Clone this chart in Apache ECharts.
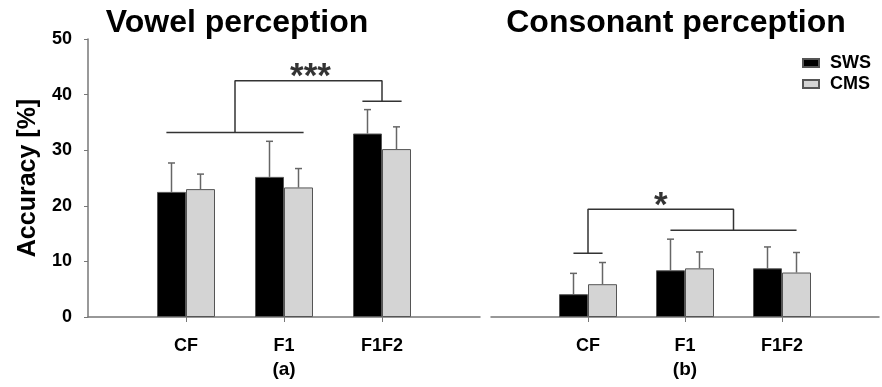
<!DOCTYPE html>
<html>
    <head>
        <meta charset="utf-8" />
        <script src="https://cdn.jsdelivr.net/npm/echarts@6/dist/echarts.min.js"></script>
    </head>
    <body>
        <style>
            html, body, #main {
                width: 882px;
                height: 387px;
                padding: 0;
                margin: 0;
                background: #fff;
            }
        </style>
        <div id="main"></div>
        <script>
            // categories and panel labels
            var categories = ['CF', 'F1', 'F1F2'];
            var panelTitles = ['Vowel perception', 'Consonant perception'];
            var panelTags = ['(a)', '(b)'];

            // mean accuracy [%] and upper error (SD) per category
            var vowelSWS = [22.5, 25.2, 33.0];
            var vowelCMS = [23.0, 23.3, 30.2];
            var vowelSWSErr = [5.2, 6.4, 4.3];
            var vowelCMSErr = [2.7, 3.4, 4.0];

            var consSWS = [4.1, 8.4, 8.75];
            var consCMS = [5.9, 8.75, 8.0];
            var consSWSErr = [3.75, 5.6, 3.85];
            var consCMSErr = [3.9, 2.95, 3.6];

            // significance brackets, x in category units (CF = 1), y in %
            var vowelBracket = [
                [0.8, 33.2], [2.2, 33.2], null,
                [1.5, 33.2], [1.5, 42.5], [3.0, 42.5], [3.0, 38.8], null,
                [2.8, 38.8], [3.2, 38.8]
            ];
            var consBracket = [
                [0.85, 11.45], [1.15, 11.45], null,
                [1.0, 11.45], [1.0, 19.4], [2.5, 19.4], [2.5, 15.6], null,
                [1.85, 15.6], [3.15, 15.6]
            ];
            var vowelStars = [[2.27, 44.6, '***']];
            var consStars = [[1.75, 21.3, '*']];

            var BAR_W = 29;
            var FONT = 'Liberation Sans, Arial, sans-serif';

            function pad(arr) {
                return [null].concat(arr, [null]);
            }
            var axisCats = pad(categories).map(function (c) { return c || ''; });

            function errData(vals, errs) {
                return vals.map(function (v, i) { return [i + 1, v, errs[i]]; });
            }

            function errSeries(vals, errs, gridIdx, side) {
                return {
                    type: 'custom',
                    xAxisIndex: gridIdx,
                    yAxisIndex: gridIdx,
                    z: 1,
                    data: errData(vals, errs),
                    renderItem: function (params, api) {
                        var base = api.coord([api.value(0), api.value(1)]);
                        var top = api.coord([api.value(0), api.value(1) + api.value(2)]);
                        var x = base[0] + side * BAR_W / 2;
                        var style = { stroke: '#666', lineWidth: 1.5 };
                        return {
                            type: 'group',
                            children: [
                                { type: 'line', shape: { x1: x, y1: base[1], x2: x, y2: top[1] }, style: style },
                                { type: 'line', shape: { x1: x - 3.5, y1: top[1], x2: x + 3.5, y2: top[1] }, style: style }
                            ]
                        };
                    }
                };
            }

            function barSeries(name, vals, gridIdx, color) {
                return {
                    name: name,
                    type: 'bar',
                    xAxisIndex: gridIdx,
                    yAxisIndex: gridIdx,
                    barWidth: BAR_W,
                    barGap: '0%',
                    z: 2,
                    itemStyle: { color: color, borderColor: '#555', borderWidth: 1 },
                    data: pad(vals)
                };
            }

            function bracketSeries(pts, gridIdx) {
                return {
                    type: 'line',
                    xAxisIndex: gridIdx + 2,
                    yAxisIndex: gridIdx,
                    symbol: 'none',
                    connectNulls: false,
                    lineStyle: { color: '#333', width: 1.5 },
                    data: pts.map(function (p) { return p ? p : [null, null]; })
                };
            }

            function starSeries(stars, gridIdx) {
                return {
                    type: 'scatter',
                    xAxisIndex: gridIdx + 2,
                    yAxisIndex: gridIdx,
                    symbolSize: 1,
                    itemStyle: { color: 'rgba(0,0,0,0)' },
                    label: {
                        show: true,
                        position: 'inside',
                        offset: [0, 8],
                        formatter: function (p) { return p.value[2]; },
                        color: '#000',
                        fontFamily: FONT,
                        fontWeight: 'bold',
                        fontSize: 35
                    },
                    data: stars
                };
            }

            function catAxis(gridIdx) {
                return {
                    type: 'category',
                    gridIndex: gridIdx,
                    data: axisCats,
                    boundaryGap: false,
                    axisLine: { lineStyle: { color: '#777', width: 1.5 } },
                    axisTick: {
                        length: 5,
                        interval: function (i) { return i >= 1 && i <= categories.length; },
                        lineStyle: { color: '#777' }
                    },
                    axisLabel: {
                        margin: 20,
                        interval: 0,
                        color: '#000',
                        fontFamily: FONT,
                        fontWeight: 'bold',
                        fontSize: 18
                    },
                    name: panelTags[gridIdx],
                    nameLocation: 'middle',
                    nameGap: 38,
                    nameTextStyle: { color: '#000', fontFamily: FONT, fontWeight: 'bold', fontSize: 19 }
                };
            }

            function hiddenX(gridIdx) {
                return { type: 'value', gridIndex: gridIdx, min: 0, max: categories.length + 1, show: false };
            }

            var chart = echarts.init(document.getElementById('main'));

            chart.setOption({
                animation: false,
                title: [
                    { text: panelTitles[0], left: 232, top: 2, textAlign: 'center',
                      textStyle: { fontFamily: FONT, fontWeight: 'bold', fontSize: 32, color: '#000' } },
                    { text: panelTitles[1], left: 671, top: 2, textAlign: 'center',
                      textStyle: { fontFamily: FONT, fontWeight: 'bold', fontSize: 32, color: '#000' } }
                ],
                legend: {
                    data: ['SWS', 'CMS'],
                    orient: 'vertical',
                    left: 802,
                    top: 54,
                    padding: 0,
                    itemWidth: 16,
                    itemHeight: 8,
                    itemGap: 3,
                    icon: 'rect',
                    textStyle: {
                        fontFamily: FONT, fontWeight: 'bold', fontSize: 18, color: '#000',
                        padding: [0, 0, 0, 6]
                    }
                },
                grid: [
                    { left: 88, top: 39, width: 392, height: 278 },
                    { left: 491, top: 39, width: 392, height: 278 }
                ],
                xAxis: [catAxis(0), catAxis(1), hiddenX(0), hiddenX(1)],
                yAxis: [
                    {
                        type: 'value', gridIndex: 0, min: 0, max: 50, interval: 10,
                        splitLine: { show: false },
                        axisLine: { show: true, lineStyle: { color: '#777', width: 1.5 } },
                        axisTick: { show: true, length: 4, lineStyle: { color: '#777' } },
                        axisLabel: { margin: 16, color: '#000', fontFamily: FONT, fontWeight: 'bold', fontSize: 18 },
                        name: 'Accuracy [%]',
                        nameLocation: 'middle',
                        nameGap: 47,
                        nameTextStyle: { color: '#000', fontFamily: FONT, fontWeight: 'bold', fontSize: 25 }
                    },
                    { type: 'value', gridIndex: 1, min: 0, max: 50, show: false }
                ],
                series: [
                    barSeries('SWS', vowelSWS, 0, '#000'),
                    barSeries('CMS', vowelCMS, 0, '#d4d4d4'),
                    errSeries(vowelSWS, vowelSWSErr, 0, -1),
                    errSeries(vowelCMS, vowelCMSErr, 0, 1),
                    bracketSeries(vowelBracket, 0),
                    starSeries(vowelStars, 0),

                    barSeries('SWS', consSWS, 1, '#000'),
                    barSeries('CMS', consCMS, 1, '#d4d4d4'),
                    errSeries(consSWS, consSWSErr, 1, -1),
                    errSeries(consCMS, consCMSErr, 1, 1),
                    bracketSeries(consBracket, 1),
                    starSeries(consStars, 1)
                ]
            });
        </script>
    </body>
</html>
